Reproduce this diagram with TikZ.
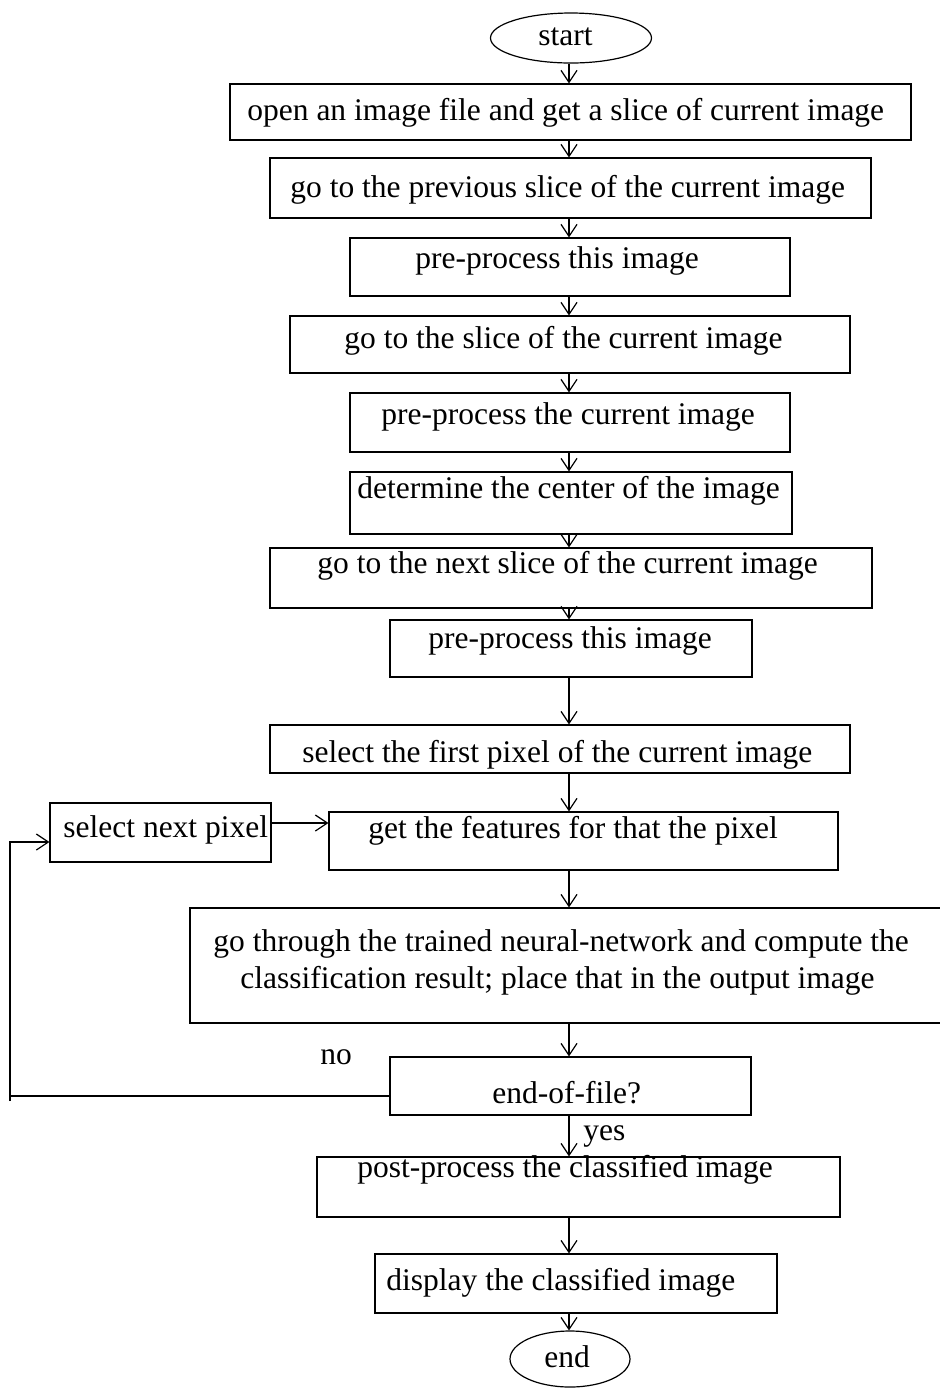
\documentclass[tikz,border=0pt]{standalone}
\usepackage{fontspec}
\setmainfont{Liberation Serif}
\usetikzlibrary{arrows.meta,fit,shapes.geometric}
\begin{document}
\begin{tikzpicture}[x=0.5pt,y=-0.5pt,
  box/.style={draw, rectangle, inner sep=0pt, line width=0.6pt},
  term/.style={draw, ellipse, inner sep=0pt, line width=0.6pt},
  txt/.style={anchor=base west, inner sep=0pt, font=\fontsize{15.75}{18.5}\selectfont},
  arr/.style={draw, line width=0.6pt, -{Straight Barb[length=6pt,width=8pt]}},
  flow/.style={draw, line width=0.6pt}]
\useasboundingbox (0,0) rectangle (940,1389);

% terminals
\node[term, minimum width=80.5pt, minimum height=25pt] (start) at (571,38) {};
\node[term, minimum width=60pt, minimum height=28pt] (end) at (570,1359) {};

% process boxes
\node[box, fit={(230,84) (911,140)}] (b1) {};
\node[box, fit={(270,158) (871,218)}] (b2) {};
\node[box, fit={(350,238) (790,296)}] (b3) {};
\node[box, fit={(290,316) (850,373)}] (b4) {};
\node[box, fit={(350,393) (790,452)}] (b5) {};
\node[box, fit={(350,472) (792,534)}] (b6) {};
\node[box, fit={(270,548) (872,608)}] (b7) {};
\node[box, fit={(390,620) (752,677)}] (b8) {};
\node[box, fit={(270,725) (850,773)}] (b9) {};
\node[box, fit={(329,812) (838,870)}] (b10) {};
\node[box, fit={(50,803) (271,862)}] (bs) {};
\node[box, fit={(190,908) (942,1023)}] (b11) {};
\node[box, fit={(390,1057) (751,1115)}] (b12) {};
\node[box, fit={(317,1157) (840,1217)}] (b13) {};
\node[box, fit={(375,1254) (777,1313)}] (b14) {};

% texts
\node[txt] (tstart) at (538,45) {start};
\node[txt] (t1) at (247,120) {open an image file and get a slice of current image};
\node[txt] (t2) at (290,197) {go to the previous slice of the current image};
\node[txt] (t3) at (415,268) {pre-process this image};
\node[txt] (t4) at (344,348) {go to the slice of the current image};
\node[txt] (t5) at (381,424) {pre-process the current image};
\node[txt] (t6) at (357,498) {determine the center of the image};
\node[txt] (t7) at (317,573) {go to the next slice of the current image};
\node[txt] (t8) at (428,648) {pre-process this image};
\node[txt] (t9) at (302,762) {select the first pixel of the current image};
\node[txt] (t10) at (368,838) {get the features for that the pixel};
\node[txt] (ts) at (63,837) {select next pixel};
\node[txt] (t11a) at (213,951) {go through the trained neural-network and compute the};
\node[txt] (t11b) at (240,988) {classification result; place that in the output image};
\node[txt] (t12) at (492,1103) {end-of-file?};
\node[txt] (tno) at (320,1064) {no};
\node[txt] (tyes) at (583,1140) {yes};
\node[txt] (t13) at (357,1177) {post-process the classified image};
\node[txt] (t14) at (386,1290) {display the classified image};
\node[txt] (tend) at (544,1367) {end};

% main flow
\coordinate (axis) at (569,0);
\draw[arr] (start.south -| axis) -- (b1.north -| axis);
\draw[arr] (b1.south -| axis) -- (b2.north -| axis);
\draw[arr] (b2.south -| axis) -- (b3.north -| axis);
\draw[arr] (b3.south -| axis) -- (b4.north -| axis);
\draw[arr] (b4.south -| axis) -- (b5.north -| axis);
\draw[arr] (b5.south -| axis) -- (b6.north -| axis);
\draw[arr] (b6.south -| axis) -- (b7.north -| axis);
\draw[arr] (b7.south -| axis) -- (b8.north -| axis);
\draw[arr] (b8.south -| axis) -- (b9.north -| axis);
\draw[arr] (b9.south -| axis) -- (b10.north -| axis);
\draw[arr] (b10.south -| axis) -- (b11.north -| axis);
\draw[arr] (b11.south -| axis) -- (b12.north -| axis);
\draw[arr] (b12.south -| axis) -- (b13.north -| axis);
\draw[arr] (b13.south -| axis) -- (b14.north -| axis);
\draw[arr] (b14.south -| axis) -- (end.north -| axis);

% next-pixel loop
\coordinate (rowa) at (0,823);
\draw[arr] (bs.east |- rowa) -- (b10.west |- rowa);
\coordinate (cnr) at (10,1096);
\coordinate (cnrlow) at (10,1101);
\coordinate (cnrtop) at (10,842);
\draw[flow] (b12.west |- cnr) -- (cnr);
\draw[arr] (cnrlow) -- (cnrtop) -- (bs.west |- cnrtop);
\end{tikzpicture}
\end{document}
